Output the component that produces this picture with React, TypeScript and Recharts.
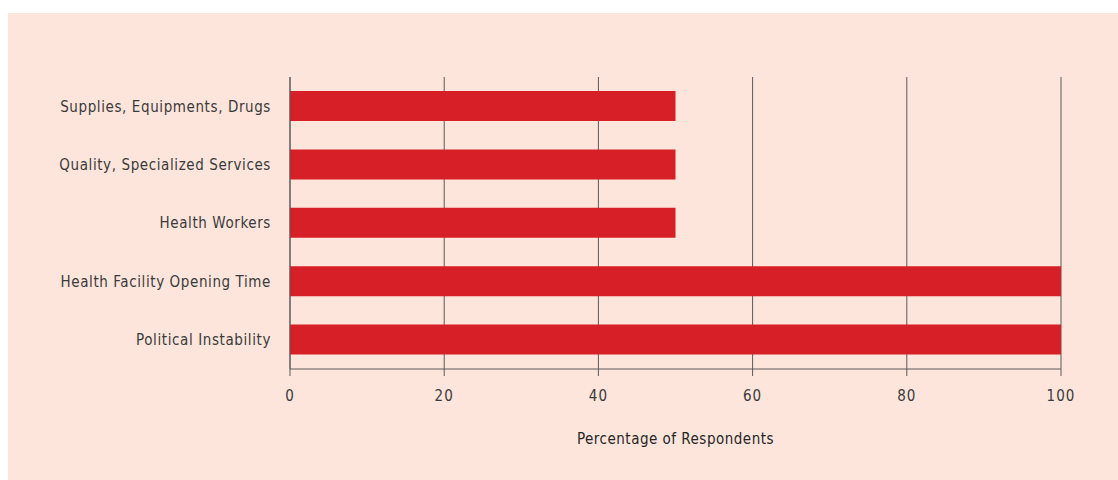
import { BarChart, Bar, XAxis, YAxis, CartesianGrid } from 'recharts';

const categories = [
  'Supplies, Equipments, Drugs',
  'Quality, Specialized Services',
  'Health Workers',
  'Health Facility Opening Time',
  'Political Instability',
];
const percentages = [50, 50, 50, 100, 100];
const xTicks = [0, 20, 40, 60, 80, 100];

const data = categories.map((name, i) => ({ name, value: percentages[i] }));

const font = '"DejaVu Sans Condensed", "DejaVu Sans", sans-serif';

const App = () => {
  return (
    <div style={{ position: 'absolute', left: 0, top: 0, width: 1118, height: 480, background: '#fff', overflow: 'hidden' }}>
      <div style={{ position: 'absolute', left: 8, top: 13, width: 1110, height: 467, background: '#fde5dc' }} />
      <div style={{ position: 'absolute', left: 0, top: 0 }}>
        <BarChart
          width={1118}
          height={480}
          data={data}
          layout="vertical"
          margin={{ top: 77, right: 57, left: 0, bottom: 0 }}
          barCategoryGap={0}
        >
          <CartesianGrid horizontal={false} stroke="#5a5a5a" strokeWidth={1} />
          <XAxis
            type="number"
            domain={[0, 100]}
            ticks={xTicks}
            height={111}
            stroke="#5a5a5a"
            tickSize={7}
            tickMargin={14}
            tick={{ fill: '#3a3a3a', fontSize: 15, fontFamily: font, letterSpacing: 1 }}
            label={{
              value: 'Percentage of Respondents',
              position: 'insideBottom',
              offset: 36,
              fill: '#262626',
              fontSize: 15,
              fontFamily: font,
              letterSpacing: 0.5,
            }}
          />
          <YAxis
            type="category"
            dataKey="name"
            width={290}
            stroke="#5a5a5a"
            tickLine={false}
            tickSize={0}
            tickMargin={19}
            tick={{ fill: '#3a3a3a', fontSize: 15, fontFamily: font, letterSpacing: 0.6 }}
          />
          <Bar dataKey="value" fill="#d61f26" barSize={30} isAnimationActive={false} />
        </BarChart>
      </div>
    </div>
  );
};

export default App;
